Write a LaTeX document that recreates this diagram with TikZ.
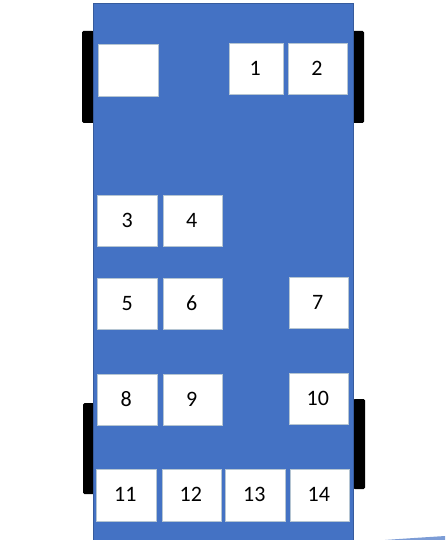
\documentclass[tikz,border=0pt]{standalone}
\usepackage{fontspec}
\setmainfont{Carlito}
\definecolor{bodyblue}{HTML}{4472C4}
\definecolor{seatedge}{HTML}{5B7F9C}
\tikzset{
  seat/.style={draw=seatedge!45!white,line width=0.6pt,fill=white,inner sep=0pt,anchor=north west,text=black,font=\fontsize{22}{26}\selectfont},
  wheel/.style={fill=black,rounded corners=1.5pt},
}
\newcommand{\seatbox}[5]{\node[seat,minimum width=#3pt,minimum height=#4pt] (#1) at (#2) {\raisebox{0.5pt}{\hspace{-1pt}#5}};}
\begin{document}
\begin{tikzpicture}[x=1pt,y=-1pt]
\useasboundingbox (0,0) rectangle (445,540);
\fill[white] (0,0) rectangle (445,540);
% wheels
\fill[wheel] (82,31) rectangle (94,123);
\fill[wheel] (352,31) rectangle (364,123);
\fill[wheel] (83,403) rectangle (95,494);
\fill[wheel] (353,399) rectangle (365,489);
% body
\fill[bodyblue] (93,3) rectangle (353.5,540);
\draw[bodyblue!80!black,line width=0.5pt] (93,540) -- (93,3) -- (353.5,3) -- (353.5,540);
% seats
\seatbox{blank}{97.8,43.6}{60}{52}{}
\seatbox{s1}{228.5,42.6}{54}{51}{1}
\seatbox{s2}{287.5,42.6}{59.5}{51}{2}
\seatbox{s3}{97.3,194.6}{60}{51}{3}
\seatbox{s4}{162.5,194.6}{59}{51}{4}
\seatbox{s5}{97.3,277.6}{60}{51}{5}
\seatbox{s6}{162.5,277.6}{59}{51}{6}
\seatbox{s7}{288.5,276.6}{59}{51}{7}
\seatbox{s8}{96.5,373.6}{60}{51}{8}
\seatbox{s9}{162.5,373.6}{59}{51}{9}
\seatbox{s10}{288.5,372.6}{59}{51}{10}
\seatbox{s11}{95.5,468.6}{60}{52}{11}
\seatbox{s12}{161.5,468.6}{59}{52}{12}
\seatbox{s13}{224.5,468.6}{60}{52}{13}
\seatbox{s14}{289.5,468.6}{59}{52}{14}
% faint streak bottom right
\fill[bodyblue!70!white] (445,536) .. controls (430,537) and (405,538.5) .. (385,540) -- (445,540) -- cycle;
\end{tikzpicture}
\end{document}
